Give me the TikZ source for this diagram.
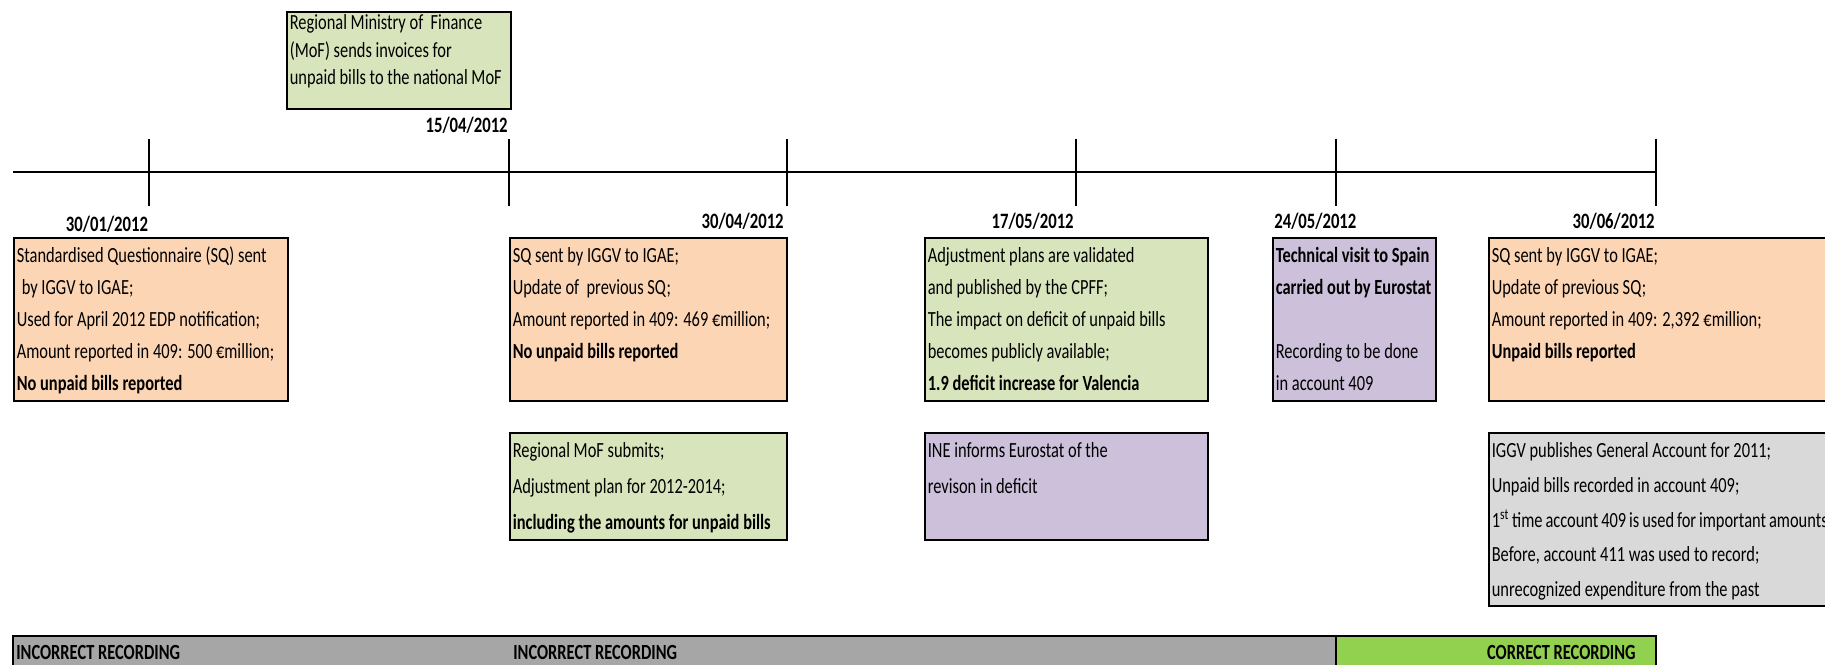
\documentclass[tikz,border=0pt]{standalone}
\usepackage{fontspec}
\setmainfont{Carlito}[FakeStretch=0.76]
\usepackage{xcolor}

\newcommand{\evtext}[4][0.5cm]{\parbox[c][#3][t]{#2}{\rule{0pt}{#1}#4}}

\begin{document}
\begin{tikzpicture}[x=0.02cm,y=-0.02cm,
  evbox/.style={draw=black,line width=0.9pt,anchor=north west,inner xsep=0.06cm,inner ysep=0pt,font=\fontsize{12.3}{18.2}\selectfont},
  datelbl/.style={font=\fontsize{12.5}{14}\selectfont\bfseries,inner sep=0pt},
  barlbl/.style={font=\fontsize{12.3}{14}\selectfont\bfseries,inner sep=0pt}]
\definecolor{peach}{HTML}{FCD5B4}
\definecolor{sage}{HTML}{D8E4BC}
\definecolor{lilac}{HTML}{CCC0DA}
\definecolor{lightgrey}{HTML}{D9D9D9}
\definecolor{bargrey}{HTML}{A6A6A6}
\definecolor{lime}{HTML}{92D050}
\useasboundingbox (0,0) rectangle (1825,665);
% timeline and ticks
\coordinate (tstart) at (13,172);
\coordinate (tend) at (1656,172);
\draw[line width=1.7pt] (tstart) -- (tend);
\foreach \tx/\tw in {149/1.2pt,509/0.7pt,787/1pt,1076/1.2pt,1336/0.7pt,1656/1.2pt}
  {\draw[line width=\tw] (\tx,139) -- (\tx,206);}
% dates
\node[datelbl] (djan) at (107,224) {30/01/2012};
\node[datelbl,anchor=mid east] (dapra) at (508,128) {15/04/2012};
\node[datelbl,anchor=mid east] (daprb) at (784,224) {30/04/2012};
\node[datelbl,anchor=mid east] (dmaya) at (1074,224) {17/05/2012};
\node[datelbl,anchor=mid west] (dmayb) at (1274,224) {24/05/2012};
\node[datelbl,anchor=mid east] (djun) at (1655,224) {30/06/2012};
% top box
\node[evbox,fill=sage,font=\fontsize{12.3}{15.6}\selectfont] (mofsend) at (286,11)
  {\evtext[0.36cm]{4.36cm}{1.94cm}{Regional Ministry of\ \ Finance\\(MoF) sends invoices for\\unpaid bills to the national MoF}};
% first row
\node[evbox,fill=peach] (sqjan) at (13,237)
  {\evtext{5.36cm}{3.26cm}{Standardised Questionnaire (SQ) sent\\\hspace*{0.1cm}by IGGV to IGAE;\\Used for April 2012 EDP notification;\\Amount reported in 409: 500 €million;\\\textbf{No unpaid bills reported}}};
\node[evbox,fill=peach] (sqapr) at (509,237)
  {\evtext{5.42cm}{3.26cm}{SQ sent by IGGV to IGAE;\\Update of\ \ previous SQ;\\Amount reported in 409: 469 €million;\\\textbf{No unpaid bills reported}}};
\node[evbox,fill=sage] (cpff) at (924,237)
  {\evtext{5.54cm}{3.26cm}{Adjustment plans are validated\\and published by the CPFF;\\The impact on deficit of unpaid bills\\becomes publicly available;\\\textbf{1.9 deficit increase for Valencia}}};
\node[evbox,fill=lilac] (visit) at (1272,237)
  {\evtext{3.14cm}{3.26cm}{\textbf{Technical visit to Spain}\\\textbf{carried out by Eurostat}\\[0.64cm]Recording to be done\\in account 409}};
\node[evbox,fill=peach] (sqjun) at (1488,237)
  {\evtext{6.72cm}{3.26cm}{SQ sent by IGGV to IGAE;\\Update of previous SQ;\\Amount reported in 409: 2,392 €million;\\\textbf{Unpaid bills reported}}};
% second row
\node[evbox,fill=sage,font=\fontsize{12.3}{20.5}\selectfont] (plan) at (509,432)
  {\evtext{5.42cm}{2.14cm}{Regional MoF submits;\\Adjustment plan for 2012-2014;\\\textbf{including the amounts for unpaid bills}}};
\node[evbox,fill=lilac,font=\fontsize{12.3}{20.5}\selectfont] (ine) at (924,432)
  {\evtext{5.54cm}{2.14cm}{INE informs Eurostat of the\\revison in deficit}};
\node[evbox,fill=lightgrey,font=\fontsize{12.3}{19.7}\selectfont] (genacc) at (1488,432)
  {\evtext{6.72cm}{3.46cm}{IGGV publishes General Account for 2011;\\Unpaid bills recorded in account 409;\\1\textsuperscript{st} time account 409 is used for important amounts\\Before, account 411 was used to record;\\unrecognized expenditure from the past}};
% recording bar
\draw[line width=0.9pt,fill=bargrey] (13,636) rectangle (1336,672);
\draw[line width=0.9pt,fill=lime] (1336,636) rectangle (1656,672);
\node[barlbl,anchor=mid west] (wronga) at (16,655) {INCORRECT RECORDING};
\node[barlbl,anchor=mid west] (wrongb) at (513,655) {INCORRECT RECORDING};
\node[barlbl,anchor=mid east] (right) at (1636,655) {CORRECT RECORDING};
\end{tikzpicture}
\end{document}
